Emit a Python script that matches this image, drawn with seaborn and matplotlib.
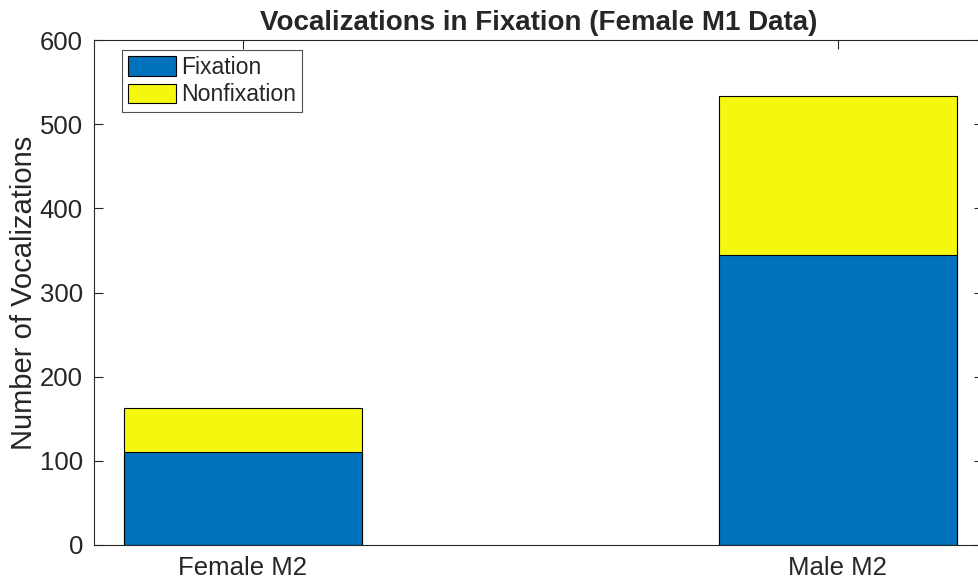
import matplotlib
matplotlib.use("Agg")
import matplotlib.pyplot as plt
import seaborn as sns
import pandas as pd
from matplotlib.patches import Patch

# values
groups = ["Female M2", "Male M2"]
fixation = [110, 345]
nonfixation = [53, 189]

blue = "#0072BD"
yellow = "#F5F70F"

df = pd.DataFrame({"group": groups, "fixation": fixation, "nonfixation": nonfixation})
df["total"] = df["fixation"] + df["nonfixation"]

sns.set_style("ticks")
plt.rcParams["font.family"] = ["Liberation Sans", "DejaVu Sans"]

fig = plt.figure(figsize=(9.79, 5.84), dpi=100)
ax = fig.add_axes([94 / 979, 39 / 584, 889 / 979, 505 / 584])

# stacked: totals in yellow behind, fixation in blue on top
sns.barplot(data=df, x="group", y="total", color=yellow, width=0.4,
            edgecolor="black", linewidth=0.8, saturation=1, ax=ax)
sns.barplot(data=df, x="group", y="fixation", color=blue, width=0.4,
            edgecolor="black", linewidth=0.8, saturation=1, ax=ax)

ax.set_xlim(-0.25, 1.244)
ax.set_ylim(0, 600)
ax.set_yticks(range(0, 601, 100))
ax.set_xlabel("")
ax.set_ylabel("Number of Vocalizations", fontsize=21, color="#262626", labelpad=1)
ax.set_title("Vocalizations in Fixation (Female M1 Data)", fontsize=20,
             fontweight="bold", pad=7)

for s in ax.spines.values():
    s.set_visible(True)
    s.set_color("#262626")
    s.set_linewidth(0.8)
ax.spines["right"].set_visible(False)  # right edge falls outside the image
ax.tick_params(direction="in", top=True, right=True, length=6.5, width=0.8,
               labelsize=18.5, colors="#262626", pad=8)

handles = [Patch(facecolor=blue, edgecolor="black", linewidth=0.8, label="Fixation"),
           Patch(facecolor=yellow, edgecolor="black", linewidth=0.8, label="Nonfixation")]
leg = ax.legend(handles=handles, loc="upper left", bbox_to_anchor=(28 / 889, 495 / 505),
                fontsize=16.6, frameon=True, fancybox=False, borderpad=0.25,
                handlelength=2.1, handleheight=0.95, handletextpad=0.2,
                labelspacing=0.2, borderaxespad=0)
leg.get_frame().set_edgecolor("#262626")
leg.get_frame().set_linewidth(0.8)

fig.savefig("out.png", dpi=100)
